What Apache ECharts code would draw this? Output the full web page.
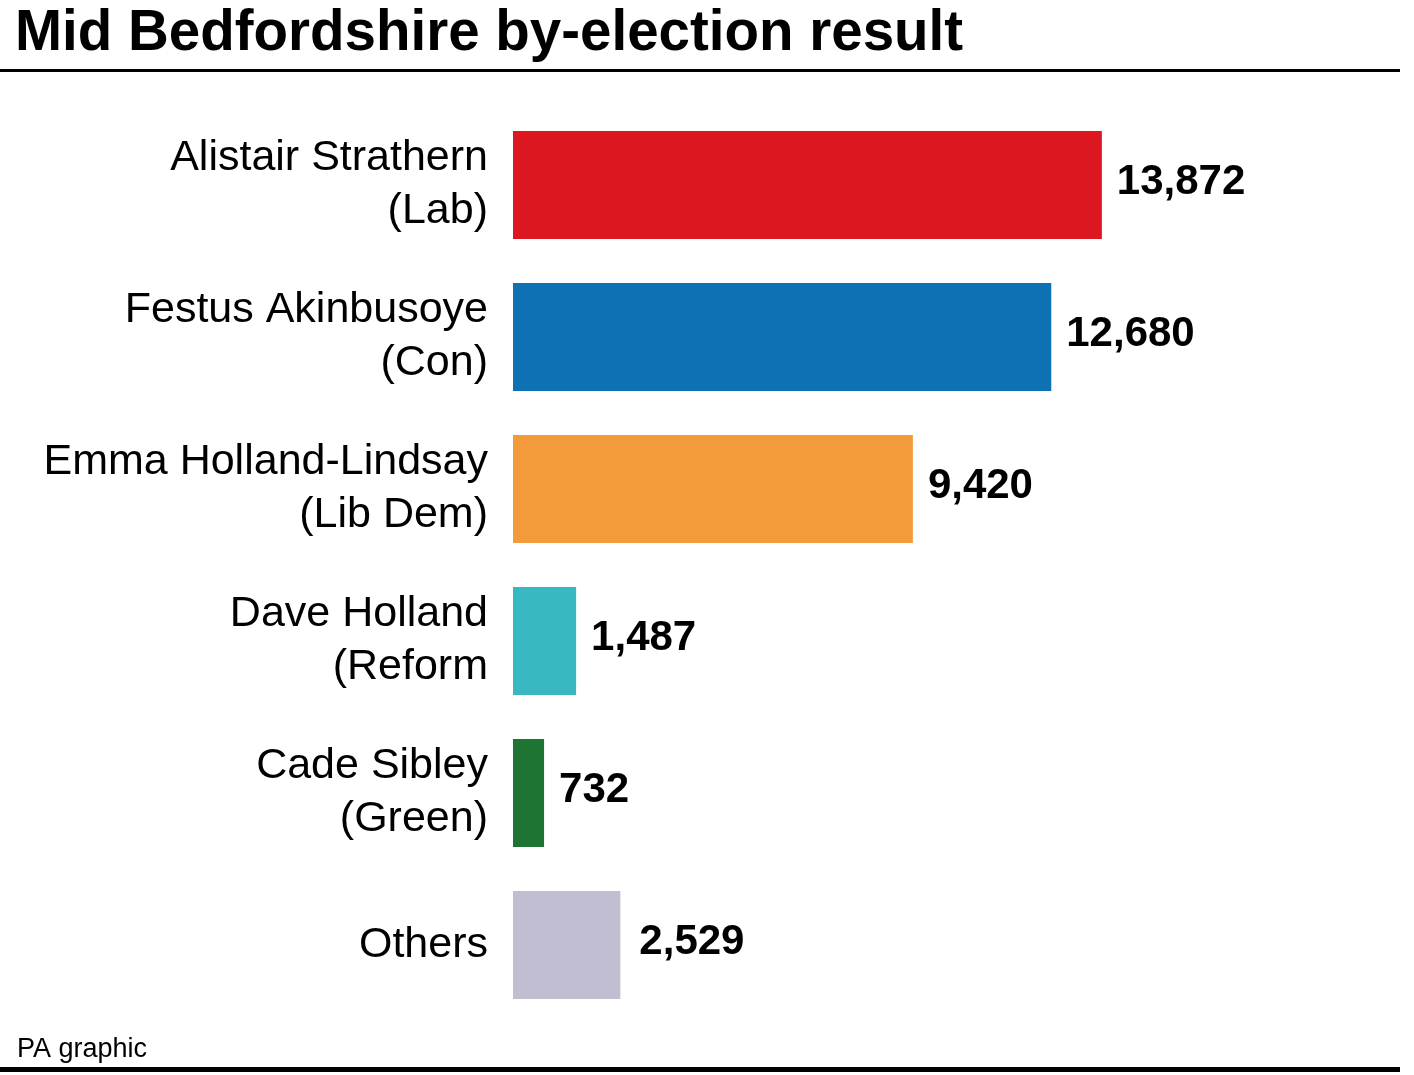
<!DOCTYPE html>
<html><head><meta charset="utf-8">
<script src="https://cdn.jsdelivr.net/npm/echarts@6/dist/echarts.min.js"></script>
<style>html,body{margin:0;padding:0;background:#fff}#c{width:1414px;height:1075px}</style>
</head><body><div id="c"></div>
<script>
const categories = ["Alistair Strathern\n(Lab)", "Festus Akinbusoye\n(Con)", "Emma Holland-Lindsay\n(Lib Dem)", "Dave Holland\n(Reform", "Cade Sibley\n(Green)", "Others"];
const votes = [13872, 12680, 9420, 1487, 732, 2529];
const colors = ["#dc171f", "#0d71b4", "#f39a3b", "#39b8c1", "#1e7433", "#c0bed0"];
const titleText = "Mid Bedfordshire by-election result";
const sourceText = "PA graphic";

const chart = echarts.init(document.getElementById('c'), null, {renderer: 'canvas'});
const FONT = "'Liberation Sans', Arial, sans-serif";
chart.setOption({
  animation: false,
  backgroundColor: '#fff',
  title: [
    {text: titleText, left: 10, top: 1, textStyle: {fontFamily: FONT, fontWeight: 'bold', fontSize: 56.5, color: '#000'}},
    {text: sourceText, left: 12, top: 1031, textStyle: {fontFamily: FONT, fontWeight: 'normal', fontSize: 27, color: '#000'}}
  ],
  graphic: [
    {type: 'rect', shape: {x: 0, y: 69, width: 1400, height: 3}, style: {fill: '#000'}},
    {type: 'rect', shape: {x: 0, y: 1067, width: 1400, height: 5}, style: {fill: '#000'}}
  ],
  grid: {left: 513, right: 52, top: 109, bottom: 54, containLabel: false},
  xAxis: {type: 'value', min: 0, max: 20000, show: false},
  yAxis: {
    type: 'category', data: categories, inverse: true,
    axisLine: {show: false}, axisTick: {show: false},
    axisLabel: {margin: 25, fontFamily: FONT, fontSize: 43, color: '#000', lineHeight: 53, align: 'right', padding: [0, 0, 8, 0]}
  },
  series: [{
    type: 'bar', data: votes.map((v, i) => ({value: v, itemStyle: {color: colors[i]}, label: i === 5 ? {distance: 19} : {}})),
    barWidth: 108,
    label: {show: true, position: 'right', distance: 15, fontFamily: FONT, fontWeight: 'bold', fontSize: 42, color: '#000',
      formatter: p => p.value.toLocaleString('en-GB'), offset: [0, -3]}
  }]
});
</script></body></html>
